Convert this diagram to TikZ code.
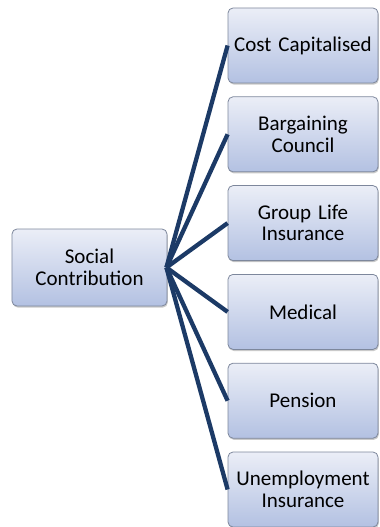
\documentclass[tikz,border=0pt]{standalone}
\usepackage{fontspec}
\setmainfont{Carlito}[WordSpace=0.8]
\usetikzlibrary{shadows}
\definecolor{topc}{HTML}{EBEEF7}
\definecolor{botc}{HTML}{B3C1E2}
\definecolor{edgec}{HTML}{7D879C}
\definecolor{linec}{HTML}{1C3A66}
\tikzset{
  box/.style={rectangle, rounded corners=5bp, draw=edgec, line width=0.8bp,
    top color=topc, bottom color=botc, minimum width=150bp, minimum height=75bp,
    inner sep=1bp, align=center, text width=148bp,
    font=\fontsize{21bp}{21.5bp}\selectfont,
    drop shadow={shadow xshift=0.8bp, shadow yshift=-1.6bp, opacity=0.35, fill=black!60}},
  conn/.style={draw=linec, line width=4.3bp, line cap=butt}
}
\begin{document}
\begin{tikzpicture}[x=1bp,y=-1bp]
\useasboundingbox (0,0) rectangle (379,527);
\node[box, minimum width=155bp, minimum height=77bp, text width=152bp] (sc) at (89.5,267.5) {Social\\Contribution};
\node[box] (c1) at (303,45.5) {Cost Capitalised};
\node[box] (c2) at (303,134.3) {Bargaining\\Council};
\node[box] (c3) at (303,223.1) {Group Life\\Insurance};
\node[box] (c4) at (303,311.9) {Medical};
\node[box] (c5) at (303,400.7) {Pension};
\node[box] (c6) at (303,489.5) {Unemployment\\Insurance};
\foreach \n in {c1,c2,c3,c4,c5,c6}{
  \draw[conn] ([xshift=-1bp]sc.east) -- (\n.west);
}
\end{tikzpicture}
\end{document}
